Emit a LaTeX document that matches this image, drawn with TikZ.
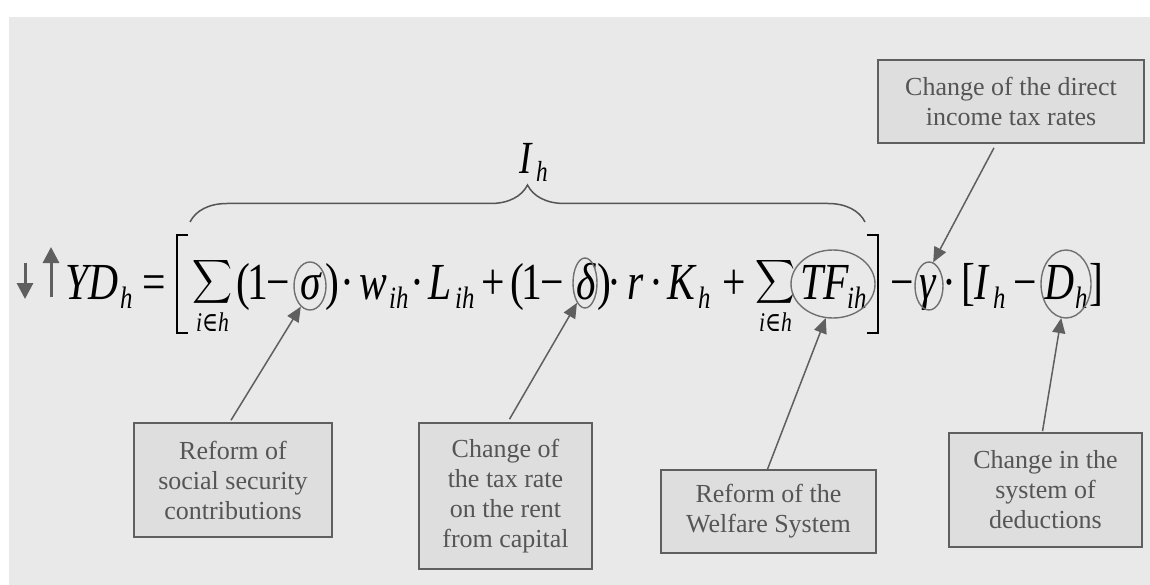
\documentclass[tikz,border=0pt]{standalone}
\usepackage{fontspec}
\setmainfont{Liberation Serif}
\newfontfamily\dvs{DejaVu Serif}
\usetikzlibrary{decorations.pathreplacing,arrows.meta,shapes.geometric,calc}
\definecolor{bg}{HTML}{E9E9E9}
\definecolor{boxfill}{HTML}{DEDEDE}
\definecolor{edge}{HTML}{5F5F5F}
\definecolor{txt}{HTML}{555555}
\definecolor{ell}{HTML}{707070}
\newcommand\nx[1]{\scalebox{0.8}[1]{#1}}
\begin{document}
\begin{tikzpicture}[x=1pt,y=-1pt,
  m/.style={anchor=base west,inner sep=0pt,font=\fontsize{52}{60}\selectfont},
  mi/.style={anchor=base west,inner sep=0pt,font=\fontsize{52}{60}\selectfont\itshape},
  s/.style={anchor=base west,inner sep=0pt,font=\fontsize{31}{36}\selectfont\itshape},
  ss/.style={anchor=base west,inner sep=0pt,font=\fontsize{27}{30}\selectfont\itshape},
  lbl/.style={draw=edge,line width=1.6pt,fill=boxfill,text=txt,font=\fontsize{26}{30}\selectfont,align=center,inner sep=0pt},
  ptr/.style={draw=edge,line width=1.5pt,-{Triangle[length=15pt,width=13pt]}},
  ring/.style={draw=ell,line width=1.4pt,ellipse,inner sep=0pt},
  updown/.style={draw=edge,line width=3pt,-{Triangle[length=16pt,width=16pt]}},
  brk/.style={line width=2pt}
]
\fill[white] (0,0) rectangle (1150,585);
\fill[bg] (9,17) rectangle (1150,585);

% up/down arrows
\draw[updown] (25,263) -- (25,299);
\draw[updown] (51,297) -- (51,247);

% formula
\node[mi] (Y) at (65,299) {\nx{YD}};
\node[s] (Yh) at (120,308) {\nx{h}};
\node[m] (eq) at (142,299) {\nx{=}};
\draw[brk] (188,235) -- (177,235) -- (177,333) -- (188,333);
\node[anchor=south west,inner sep=0pt] (S1) at (192,307) {\resizebox*{40pt}{49pt}{$\displaystyle\sum$}};
\node[ss] (S1sub) at (196,331) {\nx{i{\dvs\upshape ∈}h}};
\node[m] (p1) at (236,299) {\nx{(}};
\node[m] (one1) at (247,299) {\nx{1}};
\node[m] (min1) at (266,299) {\nx{−}};
\node[mi] (sigt) at (300,299) {\nx{σ}};
\node[m] (p2) at (325,299) {\nx{)}};
\node[m] (d1) at (340,299) {\nx{·}};
\node[mi] (w) at (359,299) {\nx{w}};
\node[s] (wi) at (389,308) {\nx{ih}};
\node[m] (d2) at (410,299) {\nx{·}};
\node[mi] (L) at (428,299) {\nx{L}};
\node[s] (Li) at (455,308) {\nx{ih}};
\node[m] (pl1) at (481,299) {\nx{+}};
\node[m] (p3) at (510,299) {\nx{(}};
\node[m] (one2) at (521,299) {\nx{1}};
\node[m] (min2) at (540,299) {\nx{−}};
\node[mi] (delt) at (576,299) {\nx{δ}};
\node[m] (p4) at (597,299) {\nx{)}};
\node[m] (d3) at (607,299) {\nx{·}};
\node[mi] (r) at (627,299) {\nx{r}};
\node[m] (d4) at (649,299) {\nx{·}};
\node[mi] (K) at (667,299) {\nx{K}};
\node[s] (Kh) at (698,308) {\nx{h}};
\node[m] (pl2) at (722,299) {\nx{+}};
\node[anchor=south west,inner sep=0pt] (S2) at (755,307) {\resizebox*{40pt}{49pt}{$\displaystyle\sum$}};
\node[ss] (S2sub) at (759,331) {\nx{i{\dvs\upshape ∈}h}};
\node[mi] (TF) at (800,299) {\nx{TF}};
\node[s] (TFi) at (847,308) {\nx{ih}};
\draw[brk] (867,235) -- (878,235) -- (878,333) -- (867,333);
\node[m] (min3) at (890,299) {\nx{−}};
\node[mi] (gamt) at (919,299) {\nx{γ}};
\node[m] (d5) at (942,299) {\nx{·}};
\node[m] (lb) at (961,299) {\nx{[}};
\node[mi] (I) at (974,299) {\nx{I}};
\node[s] (Ih) at (993,308) {\nx{h}};
\node[m] (min4) at (1013,299) {\nx{−}};
\node[mi] (D) at (1044,299) {\nx{D}};
\node[s] (Dh) at (1075,308) {\nx{h}};
\node[m] (rb) at (1089,299) {\nx{]}};

% brace and label
\draw[draw=txt,line width=1.5pt,decorate,decoration={brace,amplitude=37pt}] (190,222) -- (865,222);
\node[mi,font=\fontsize{46}{50}\selectfont\itshape] (Ilab) at (519,174) {\nx{I}};
\node[s,font=\fontsize{29}{32}\selectfont\itshape] (Ilabh) at (536,182) {\nx{h}};

% ellipses
\node[ring,minimum width=32pt,minimum height=48pt] (sig) at (310,286) {};
\node[ring,minimum width=24pt,minimum height=50pt] (del) at (585,283) {};
\node[ring,minimum width=84pt,minimum height=68pt] (tf) at (833,284) {};
\node[ring,minimum width=28pt,minimum height=48pt] (gam) at (929,286) {};
\node[ring,minimum width=50pt,minimum height=68pt] (dd) at (1066,284) {};

% boxes
\node[lbl,minimum width=266pt,minimum height=83pt] (top) at (1011,101.5) {Change of the direct\\income tax rates};
\node[lbl,minimum width=198pt,minimum height=114pt] (b1) at (233,480) {Reform of\\social security\\contributions};
\node[lbl,minimum width=173pt,minimum height=146pt] (b2) at (505.5,496) {Change of\\the tax rate\\on the rent\\from capital};
\node[lbl,minimum width=215pt,minimum height=83pt] (b3) at (768.5,511.5) {Reform of the\\Welfare System};
\node[lbl,minimum width=193pt,minimum height=114pt] (b4) at (1045.5,490) {Change in the\\system of\\deductions};

% pointers
\draw[ptr] ($(top.south)+(-17,4)$) -- (gam.80);
\draw[ptr] ($(b1.north)+(-2,-2)$) -- (sig.246);
\draw[ptr] ($(b2.north)+(4,-3)$) -- (del.248);
\draw[ptr] ($(b3.north)+(-1,0)$) -- (tf.258);
\draw[ptr] ($(b4.north)+(-3,-1)$) -- (dd.262);
\end{tikzpicture}
\end{document}
